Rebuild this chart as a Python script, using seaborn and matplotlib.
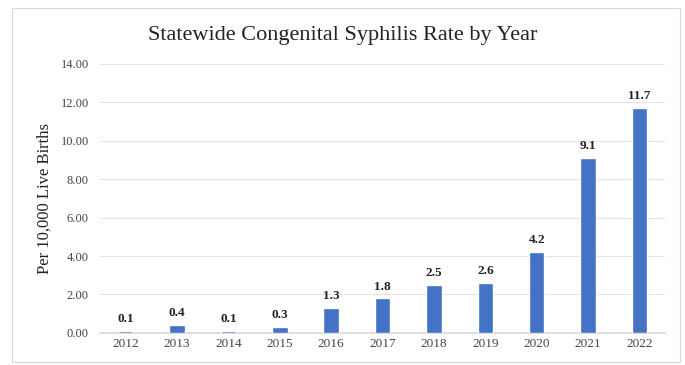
import matplotlib
matplotlib.use("Agg")
import matplotlib.pyplot as plt
import matplotlib.patches as mpatches
import seaborn as sns
import pandas as pd

# 数据
years = ['2012', '2013', '2014', '2015', '2016', '2017', '2018', '2019', '2020', '2021', '2022']
rates = [0.1, 0.4, 0.1, 0.3, 1.3, 1.8, 2.5, 2.6, 4.2, 9.1, 11.7]
yticks = [0, 2, 4, 6, 8, 10, 12, 14]

df = pd.DataFrame({'year': years, 'rate': rates})

sns.set_theme(style='white')
plt.rcParams['font.family'] = ['Liberation Serif', 'DejaVu Serif']

fig = plt.figure(figsize=(6.85, 3.65), dpi=100)
ax = fig.add_axes([0.146, 0.088, 0.825, 0.737])

sns.barplot(x='year', y='rate', data=df, color='#4472C4', width=0.3,
            saturation=1, ax=ax, zorder=3)

for i, v in enumerate(rates):
    ax.text(i, v + 0.3, f'{v:.1f}', ha='center', va='bottom',
            fontsize=9.5, fontweight='bold', color='#222222')

ax.set_ylim(0, 14)
ax.set_yticks(yticks)
ax.set_yticklabels([f'{t:.2f}' for t in yticks], fontsize=9, color='#444444')
ax.tick_params(axis='x', labelsize=9.5, colors='#444444', length=0, pad=4)
ax.tick_params(axis='y', length=0, pad=8)
ax.yaxis.grid(True, color='#e3e3e3', linewidth=0.8, zorder=0)
ax.set_axisbelow(True)
for s in ['top', 'right', 'left']:
    ax.spines[s].set_visible(False)
ax.spines['bottom'].set_color('#d9d9d9')
ax.set_xlabel('')
ax.set_ylabel('Per 10,000 Live Births', fontsize=12, color='#222222', labelpad=6)

fig.text(0.5, 0.904, 'Statewide Congenital Syphilis Rate by Year',
         ha='center', va='center', fontsize=16, color='#222222')

# 外框
border = mpatches.Rectangle((0.017, 0.008), 0.975, 0.97, transform=fig.transFigure,
                            fill=False, edgecolor='#d9d9d9', linewidth=0.8)
fig.patches.append(border)

fig.savefig('out.png', dpi=100)
